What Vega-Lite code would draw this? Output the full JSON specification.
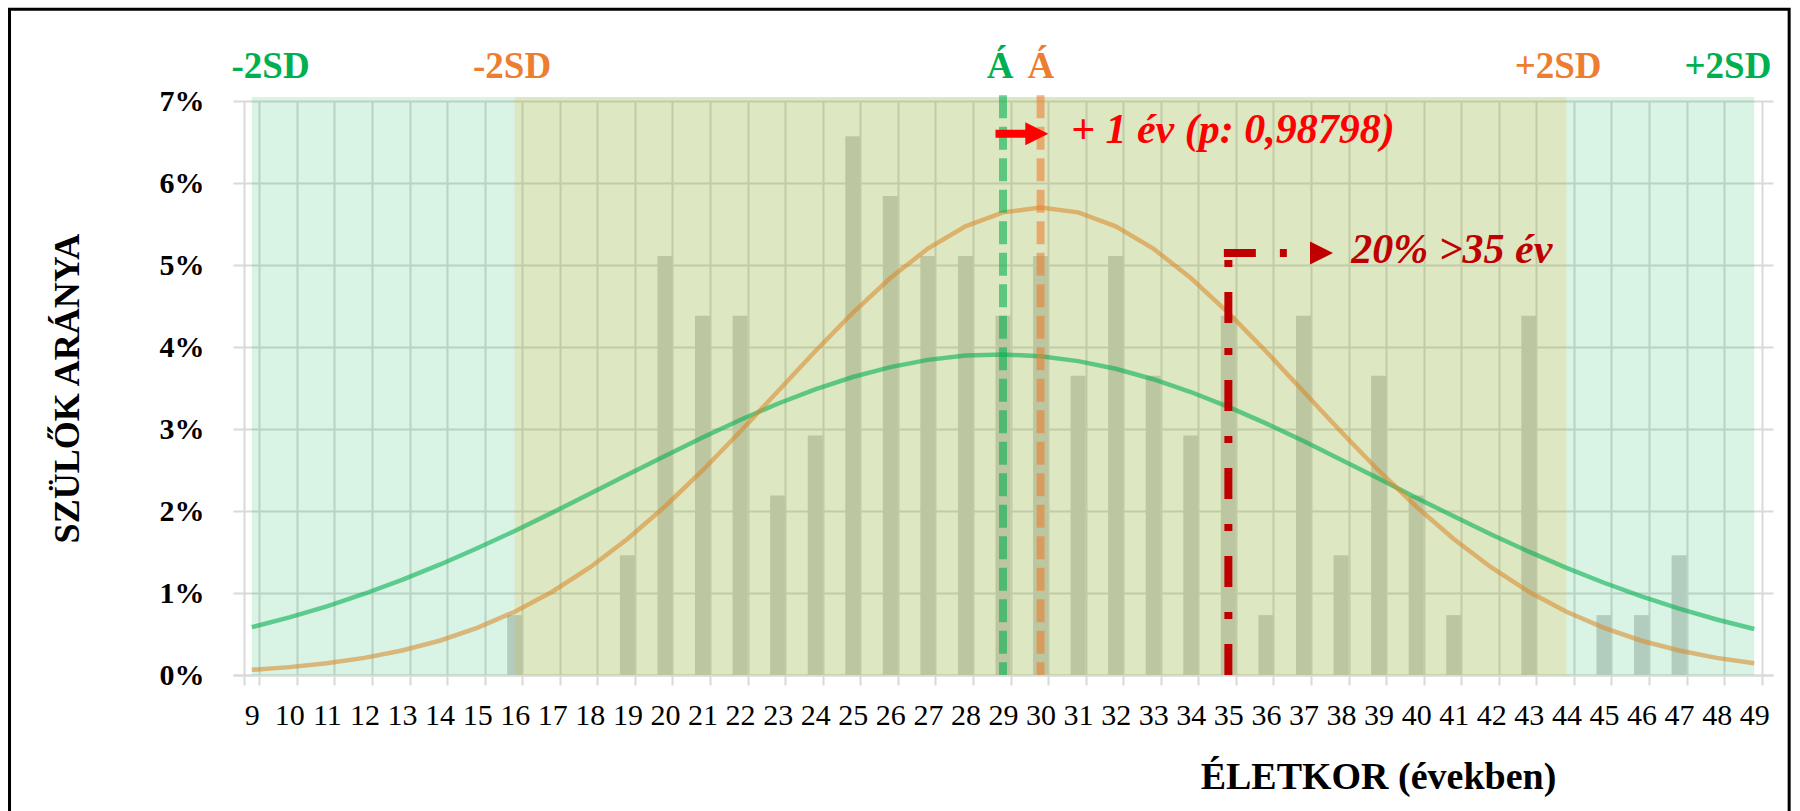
{
  "$schema": "https://vega.github.io/schema/vega-lite/v6.json",
  "width": 1540,
  "height": 574,
  "autosize": "none",
  "padding": {"left": 233, "top": 101, "right": 27, "bottom": 136},
  "background": "white",
  "config": {"view": {"stroke": null}, "font": "Liberation Serif"},
  "datasets": {
    "ages": [
      {"age": 9, "share": 0, "A": 0.00583, "B": 0.00063},
      {"age": 10, "share": 0, "A": 0.00703, "B": 0.00096},
      {"age": 11, "share": 0, "A": 0.00838, "B": 0.00143},
      {"age": 12, "share": 0, "A": 0.00991, "B": 0.00209},
      {"age": 13, "share": 0, "A": 0.0116, "B": 0.00299},
      {"age": 14, "share": 0, "A": 0.01345, "B": 0.00418},
      {"age": 15, "share": 0, "A": 0.01545, "B": 0.00574},
      {"age": 16, "share": 0.0073, "A": 0.01757, "B": 0.00771},
      {"age": 17, "share": 0, "A": 0.0198, "B": 0.01016},
      {"age": 18, "share": 0, "A": 0.02209, "B": 0.01311},
      {"age": 19, "share": 0.0146, "A": 0.02441, "B": 0.01658},
      {"age": 20, "share": 0.0511, "A": 0.02672, "B": 0.02055},
      {"age": 21, "share": 0.0438, "A": 0.02897, "B": 0.02494},
      {"age": 22, "share": 0.0438, "A": 0.0311, "B": 0.02967},
      {"age": 23, "share": 0.0219, "A": 0.03308, "B": 0.03457},
      {"age": 24, "share": 0.0292, "A": 0.03484, "B": 0.03948},
      {"age": 25, "share": 0.0657, "A": 0.03634, "B": 0.04417},
      {"age": 26, "share": 0.0584, "A": 0.03755, "B": 0.04841},
      {"age": 27, "share": 0.0511, "A": 0.03843, "B": 0.052},
      {"age": 28, "share": 0.0511, "A": 0.03895, "B": 0.05472},
      {"age": 29, "share": 0.0438, "A": 0.0391, "B": 0.05642},
      {"age": 30, "share": 0.0511, "A": 0.03887, "B": 0.057},
      {"age": 31, "share": 0.0365, "A": 0.03828, "B": 0.05642},
      {"age": 32, "share": 0.0511, "A": 0.03734, "B": 0.05472},
      {"age": 33, "share": 0.0365, "A": 0.03607, "B": 0.052},
      {"age": 34, "share": 0.0292, "A": 0.03451, "B": 0.04841},
      {"age": 35, "share": 0.0438, "A": 0.0327, "B": 0.04417},
      {"age": 36, "share": 0.0073, "A": 0.03069, "B": 0.03948},
      {"age": 37, "share": 0.0438, "A": 0.02853, "B": 0.03457},
      {"age": 38, "share": 0.0146, "A": 0.02626, "B": 0.02967},
      {"age": 39, "share": 0.0365, "A": 0.02395, "B": 0.02494},
      {"age": 40, "share": 0.0219, "A": 0.02163, "B": 0.02055},
      {"age": 41, "share": 0.0073, "A": 0.01935, "B": 0.01658},
      {"age": 42, "share": 0, "A": 0.01714, "B": 0.01311},
      {"age": 43, "share": 0.0438, "A": 0.01504, "B": 0.01016},
      {"age": 44, "share": 0, "A": 0.01307, "B": 0.00771},
      {"age": 45, "share": 0.0073, "A": 0.01125, "B": 0.00574},
      {"age": 46, "share": 0.0073, "A": 0.00959, "B": 0.00418},
      {"age": 47, "share": 0.0146, "A": 0.0081, "B": 0.00299},
      {"age": 48, "share": 0, "A": 0.00677, "B": 0.00209},
      {"age": 49, "share": 0, "A": 0.00561, "B": 0.00143}
    ],
    "bands": [
      {"series": "A", "from": 9, "to": 49},
      {"series": "B", "from": 16, "to": 44}
    ],
    "means": [
      {"series": "A", "mean": 29},
      {"series": "B", "mean": 30}
    ],
    "tops": [
      {"series": "A", "label": "-2SD", "pos": 9.5},
      {"series": "B", "label": "-2SD", "pos": 15.93},
      {"series": "A", "label": "Á", "pos": 28.92},
      {"series": "B", "label": "Á", "pos": 30.01},
      {"series": "B", "label": "+2SD", "pos": 43.78},
      {"series": "A", "label": "+2SD", "pos": 48.3}
    ],
    "notes": [
      {"kind": "shift", "label": "+ 1 év (p: 0,98798)", "pos": 30.81, "pct": 0.0649},
      {"kind": "over35", "label": "20% >35 év", "pos": 38.27, "pct": 0.0502}
    ]
  },
  "layer": [
    {
      "data": {"name": "ages"},
      "mark": {"type": "bar", "color": "#d2d2d2"},
      "encoding": {
        "x": {
          "field": "age",
          "type": "ordinal",
          "scale": {"paddingInner": 0.6, "paddingOuter": 0.3},
          "axis": {
            "tickBand": "extent",
            "grid": true,
            "gridColor": "#d9d9d9",
            "gridWidth": 2,
            "domainColor": "#d9d9d9",
            "domainWidth": 2,
            "tickColor": "#d9d9d9",
            "tickWidth": 2,
            "tickSize": 10,
            "labelAngle": 0,
            "labelOverlap": false,
            "labelFont": "Liberation Serif",
            "labelFontSize": 30,
            "labelColor": "black",
            "labelPadding": 15,
            "title": "ÉLETKOR (években)",
            "titleFont": "Liberation Serif",
            "titleFontSize": 38,
            "titleFontWeight": "bold",
            "titleColor": "black",
            "titleX": 1145,
            "titleY": 113,
            "titleAlign": "center",
            "titleBaseline": "alphabetic"
          }
        },
        "y": {
          "field": "share",
          "type": "quantitative",
          "scale": {"domain": [0, 0.07], "nice": false},
          "axis": {
            "values": [0, 0.01, 0.02, 0.03, 0.04, 0.05, 0.06, 0.07],
            "format": ".0%",
            "grid": true,
            "gridColor": "#d9d9d9",
            "gridWidth": 2,
            "ticks": false,
            "domain": false,
            "labelFont": "Liberation Serif",
            "labelFontSize": 30,
            "labelFontWeight": "bold",
            "labelColor": "black",
            "labelPadding": 29,
            "title": "SZÜLŐK ARÁNYA",
            "titleFont": "Liberation Serif",
            "titleFontSize": 36,
            "titleFontWeight": "bold",
            "titleColor": "black",
            "titleAngle": 270,
            "titleX": -155,
            "titleY": 287,
            "titleAlign": "center",
            "titleBaseline": "alphabetic"
          }
        }
      }
    },
    {
      "layer": [
        {
          "data": {"name": "bands"},
          "mark": {"type": "rect", "fillOpacity": 0.15},
          "encoding": {
            "x": {
              "field": "from",
              "type": "quantitative",
              "scale": {"domain": [8.5, 49.5], "nice": false, "zero": false},
              "axis": {
                "orient": "bottom",
                "values": [9, 10, 11, 12, 13, 14, 15, 16, 17, 18, 19, 20, 21, 22, 23, 24, 25, 26, 27, 28, 29, 30, 31, 32, 33, 34, 35, 36, 37, 38, 39, 40, 41, 42, 43, 44, 45, 46, 47, 48, 49],
                "grid": true,
                "gridColor": "#e9e9e9",
                "gridWidth": 2,
                "labels": false,
                "ticks": false,
                "domain": false,
                "title": null
              }
            },
            "x2": {"field": "to"},
            "y": {"datum": 0, "type": "quantitative"},
            "y2": {"datum": 0.0705},
            "color": {
              "field": "series",
              "type": "nominal",
              "scale": {"domain": ["A", "B"], "range": ["#00b050", "#f5ad00"]},
              "legend": null
            }
          }
        },
        {
          "data": {"name": "ages"},
          "transform": [{"fold": ["A", "B"], "as": ["series", "pct"]}],
          "mark": {"type": "line", "strokeWidth": 4.5, "opacity": 0.58},
          "encoding": {
            "x": {"field": "age", "type": "quantitative", "scale": {"domain": [8.5, 49.5], "nice": false, "zero": false}, "axis": null},
            "y": {"field": "pct", "type": "quantitative"},
            "color": {
              "field": "series",
              "type": "nominal",
              "scale": {"domain": ["A", "B"], "range": ["#00b050", "#d98a2b"]},
              "legend": null
            }
          }
        },
        {
          "data": {"name": "means"},
          "mark": {"type": "rule", "strokeWidth": 8, "strokeDash": [23, 8.5], "opacity": 0.58},
          "encoding": {
            "x": {"field": "mean", "type": "quantitative", "scale": {"domain": [8.5, 49.5], "nice": false, "zero": false}, "axis": null},
            "y": {"datum": 0.0707, "type": "quantitative"},
            "y2": {"datum": 0},
            "color": {
              "field": "series",
              "type": "nominal",
              "scale": {"domain": ["A", "B"], "range": ["#00b050", "#ed7d31"]},
              "legend": null
            }
          }
        },
        {
          "data": {"name": "tops"},
          "mark": {"type": "text", "font": "Liberation Serif", "fontSize": 37, "fontWeight": "bold", "baseline": "alphabetic", "align": "center"},
          "encoding": {
            "x": {"field": "pos", "type": "quantitative", "scale": {"domain": [8.5, 49.5], "nice": false, "zero": false}, "axis": null},
            "y": {"datum": 0.0728, "type": "quantitative"},
            "text": {"field": "label"},
            "color": {
              "field": "series",
              "type": "nominal",
              "scale": {"domain": ["A", "B"], "range": ["#00b050", "#ed7d31"]},
              "legend": null
            }
          }
        },
        {
          "data": {"values": [{}]},
          "mark": {"type": "rule", "strokeWidth": 8, "color": "#ff0000", "strokeCap": "butt"},
          "encoding": {
            "x": {"datum": 28.8, "type": "quantitative", "scale": {"domain": [8.5, 49.5], "nice": false, "zero": false}, "axis": null},
            "x2": {"datum": 29.7},
            "y": {"datum": 0.066, "type": "quantitative"}
          }
        },
        {
          "data": {"values": [{}]},
          "mark": {"type": "point", "shape": "M-1,-1L1,0L-1,1Z", "size": 529, "filled": true, "opacity": 1, "color": "#ff0000", "strokeWidth": 0},
          "encoding": {
            "x": {"datum": 29.9, "type": "quantitative", "scale": {"domain": [8.5, 49.5], "nice": false, "zero": false}, "axis": null},
            "y": {"datum": 0.066, "type": "quantitative"}
          }
        },
        {
          "data": {"values": [{}]},
          "mark": {"type": "rule", "strokeWidth": 8, "color": "#c00000", "strokeDash": [31, 25, 7, 25], "strokeCap": "butt"},
          "encoding": {
            "x": {"datum": 35, "type": "quantitative", "scale": {"domain": [8.5, 49.5], "nice": false, "zero": false}, "axis": null},
            "y": {"datum": 0, "type": "quantitative"},
            "y2": {"datum": 0.05146}
          }
        },
        {
          "data": {"values": [{}]},
          "mark": {"type": "rule", "strokeWidth": 8, "color": "#c00000", "strokeDash": [32, 24, 7, 25], "strokeCap": "butt"},
          "encoding": {
            "x": {"datum": 34.88, "type": "quantitative", "scale": {"domain": [8.5, 49.5], "nice": false, "zero": false}, "axis": null},
            "x2": {"datum": 37.17},
            "y": {"datum": 0.05146, "type": "quantitative"}
          }
        },
        {
          "data": {"values": [{}]},
          "mark": {"type": "point", "shape": "M-1,-1L1,0L-1,1Z", "size": 529, "filled": true, "opacity": 1, "color": "#c00000", "strokeWidth": 0},
          "encoding": {
            "x": {"datum": 37.48, "type": "quantitative", "scale": {"domain": [8.5, 49.5], "nice": false, "zero": false}, "axis": null},
            "y": {"datum": 0.05146, "type": "quantitative"}
          }
        },
        {
          "data": {"name": "notes"},
          "mark": {"type": "text", "font": "Liberation Serif", "fontSize": 42, "fontWeight": "bold", "fontStyle": "italic", "align": "left", "baseline": "alphabetic"},
          "encoding": {
            "x": {"field": "pos", "type": "quantitative", "scale": {"domain": [8.5, 49.5], "nice": false, "zero": false}, "axis": null},
            "y": {"field": "pct", "type": "quantitative"},
            "text": {"field": "label"},
            "color": {
              "field": "kind",
              "type": "nominal",
              "scale": {"domain": ["shift", "over35"], "range": ["#ff0000", "#c00000"]},
              "legend": null
            }
          }
        },
        {
          "data": {"values": [{}]},
          "mark": {"type": "rect", "fill": "transparent", "stroke": "black", "strokeWidth": 3},
          "encoding": {
            "x": {"datum": 2.55, "type": "quantitative", "scale": {"domain": [8.5, 49.5], "nice": false, "zero": false}, "axis": null},
            "x2": {"datum": 49.93},
            "y": {"datum": 0.0812, "type": "quantitative"},
            "y2": {"datum": -0.025}
          }
        }
      ],
      "resolve": {"scale": {"color": "independent"}}
    }
  ],
  "resolve": {"scale": {"x": "independent"}}
}
